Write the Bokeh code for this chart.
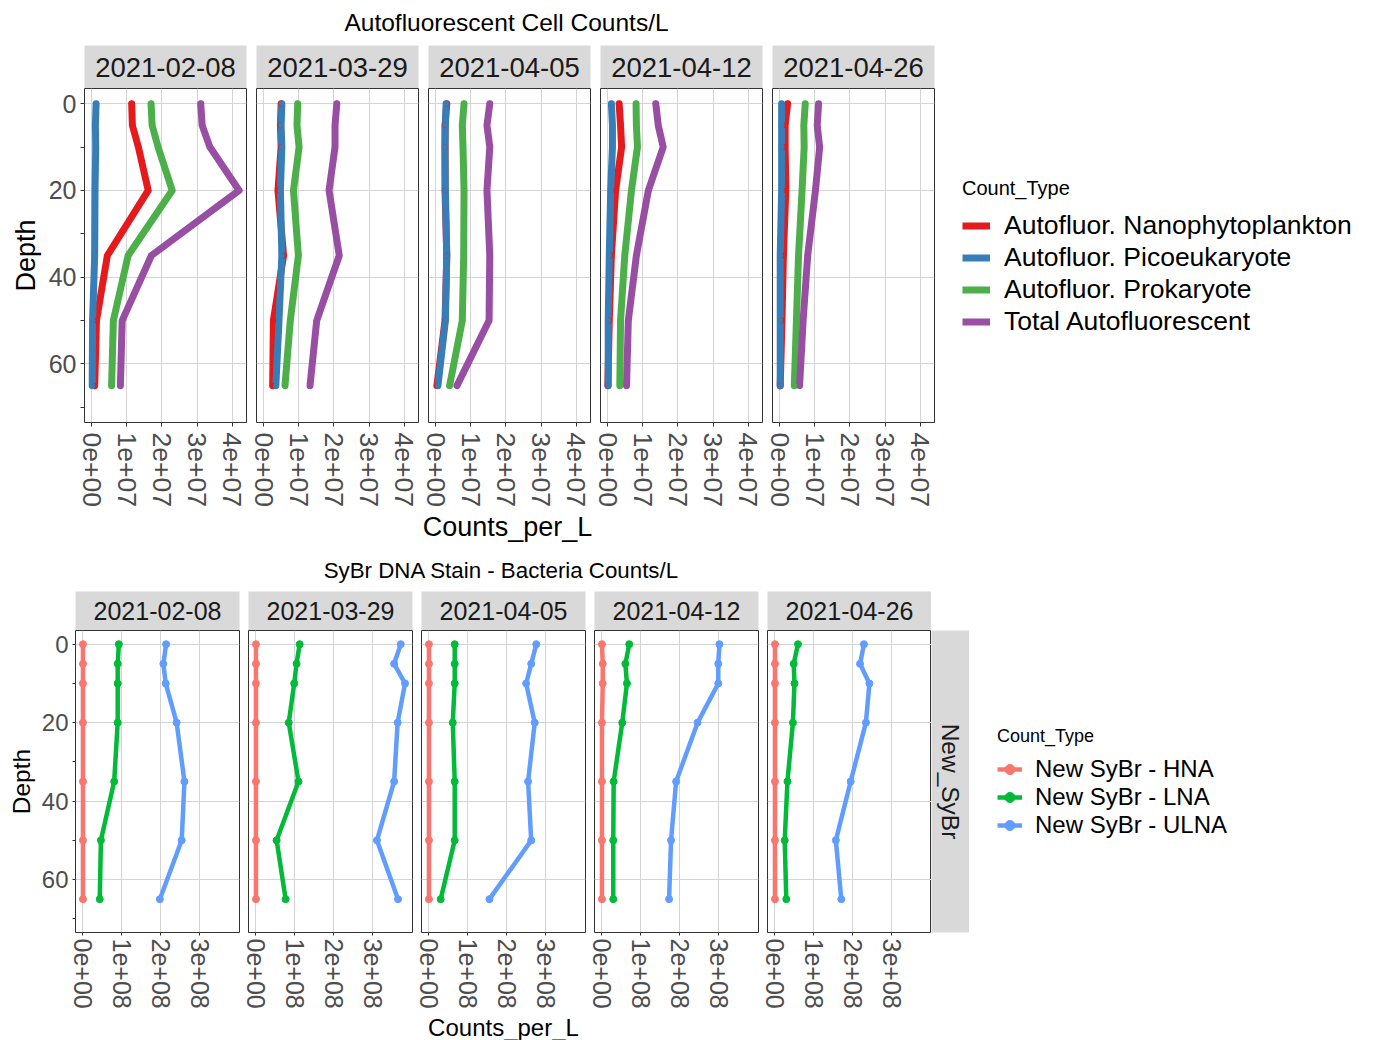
from bokeh.plotting import figure
from bokeh.models import Range1d, FixedTicker, Label, Legend, LegendItem, Spacer
from bokeh.layouts import row, column
from bokeh.embed import file_html
from bokeh.resources import INLINE

FONT = "Liberation Sans"

# ---------------- data ----------------
dates = ["2021-02-08", "2021-03-29", "2021-04-05", "2021-04-12", "2021-04-26"]
depths = [0, 5, 10, 20, 35, 50, 65]
depth_limits = [0, 70]
depth_ticks = [0, 20, 40, 60]
depth_minor_ticks = [10, 30, 50, 70]

auto_labels = ["Autofluor. Nanophytoplankton", "Autofluor. Picoeukaryote",
               "Autofluor. Prokaryote", "Total Autofluorescent"]
auto_colors = ["#E41A1C", "#377EB8", "#4DAF4A", "#984EA3"]
# one row per date, one value per depth (counts per L)
auto_nano = [
    [1.14e7, 1.16e7, 1.33e7, 1.61e7, 0.45e7, 0.14e7, 0.09e7],
    [0.50e7, 0.48e7, 0.50e7, 0.41e7, 0.57e7, 0.28e7, 0.26e7],
    [0.32e7, 0.27e7, 0.27e7, 0.27e7, 0.32e7, 0.27e7, 0.04e7],
    [0.33e7, 0.37e7, 0.40e7, 0.23e7, 0.11e7, 0.05e7, 0.01e7],
    [0.23e7, 0.16e7, 0.16e7, 0.18e7, 0.11e7, 0.07e7, 0.02e7],
]
auto_pico = [
    [0.13e7, 0.11e7, 0.12e7, 0.10e7, 0.09e7, 0.03e7, 0.02e7],
    [0.52e7, 0.50e7, 0.52e7, 0.48e7, 0.52e7, 0.44e7, 0.35e7],
    [0.30e7, 0.28e7, 0.27e7, 0.28e7, 0.32e7, 0.28e7, 0.07e7],
    [0.11e7, 0.14e7, 0.14e7, 0.09e7, 0.05e7, 0.02e7, 0.02e7],
    [0.06e7, 0.06e7, 0.06e7, 0.06e7, 0.02e7, 0.02e7, 0.02e7],
]
auto_prok = [
    [1.69e7, 1.72e7, 1.89e7, 2.29e7, 1.04e7, 0.62e7, 0.57e7],
    [0.97e7, 0.95e7, 1.01e7, 0.85e7, 0.99e7, 0.76e7, 0.61e7],
    [0.81e7, 0.76e7, 0.78e7, 0.81e7, 0.80e7, 0.76e7, 0.40e7],
    [0.81e7, 0.82e7, 0.85e7, 0.68e7, 0.49e7, 0.37e7, 0.35e7],
    [0.73e7, 0.69e7, 0.70e7, 0.64e7, 0.54e7, 0.48e7, 0.42e7],
]
auto_total = [
    [3.10e7, 3.14e7, 3.36e7, 4.19e7, 1.70e7, 0.87e7, 0.82e7],
    [2.08e7, 2.03e7, 2.03e7, 1.86e7, 2.15e7, 1.51e7, 1.32e7],
    [1.54e7, 1.46e7, 1.54e7, 1.46e7, 1.54e7, 1.52e7, 0.61e7],
    [1.37e7, 1.44e7, 1.58e7, 1.16e7, 0.82e7, 0.59e7, 0.54e7],
    [1.11e7, 1.07e7, 1.14e7, 1.02e7, 0.80e7, 0.67e7, 0.57e7],
]
auto_xticks = [0, 10000000, 20000000, 30000000, 40000000]
auto_xtick_labels = ["0e+00", "1e+07", "2e+07", "3e+07", "4e+07"]

sybr_labels = ["New SyBr - HNA", "New SyBr - LNA", "New SyBr - ULNA"]
sybr_colors = ["#F8766D", "#00BA38", "#619CFF"]
sybr_hna = [
    [0.01e8, 0.01e8, 0.01e8, 0.01e8, 0.01e8, 0.01e8, 0.01e8],
    [0.01e8, 0.01e8, 0.01e8, 0.01e8, 0.01e8, 0.01e8, 0.01e8],
    [0.01e8, 0.01e8, 0.01e8, 0.01e8, 0.01e8, 0.01e8, 0.01e8],
    [0.01e8, 0.03e8, 0.03e8, 0.01e8, 0.01e8, 0.01e8, 0.01e8],
    [0.01e8, 0.01e8, 0.01e8, 0.01e8, 0.01e8, 0.01e8, 0.01e8],
]
sybr_lna = [
    [0.93e8, 0.90e8, 0.90e8, 0.90e8, 0.81e8, 0.47e8, 0.44e8],
    [1.13e8, 1.05e8, 0.99e8, 0.85e8, 1.10e8, 0.54e8, 0.77e8],
    [0.67e8, 0.67e8, 0.67e8, 0.62e8, 0.67e8, 0.67e8, 0.31e8],
    [0.71e8, 0.61e8, 0.65e8, 0.53e8, 0.31e8, 0.30e8, 0.30e8],
    [0.60e8, 0.49e8, 0.51e8, 0.47e8, 0.33e8, 0.26e8, 0.30e8],
]
sybr_ulna = [
    [2.14e8, 2.07e8, 2.13e8, 2.41e8, 2.61e8, 2.54e8, 1.98e8],
    [3.72e8, 3.55e8, 3.83e8, 3.64e8, 3.55e8, 3.11e8, 3.65e8],
    [2.76e8, 2.63e8, 2.50e8, 2.72e8, 2.55e8, 2.63e8, 1.56e8],
    [3.02e8, 2.99e8, 2.99e8, 2.46e8, 1.91e8, 1.78e8, 1.73e8],
    [2.29e8, 2.19e8, 2.43e8, 2.34e8, 1.95e8, 1.57e8, 1.71e8],
]
sybr_xticks = [0, 100000000, 200000000, 300000000]
sybr_xtick_labels = ["0e+00", "1e+08", "2e+08", "3e+08"]

# ---------------- helpers ----------------
GRID = "#D4D4D4"
BORDER = "#333333"
TICKTXT = "#4D4D4D"
TOTAL_W = 1366


def expand(lo, hi, f=0.05):
    d = hi - lo
    return lo - f * d, hi + f * d


def blank(fig):
    fig.grid.visible = False
    fig.outline_line_color = None
    fig.background_fill_color = "white"
    fig.border_fill_color = "white"


def text_fig(w, h, text, x, y, fs):
    f = figure(width=w, height=h, x_range=Range1d(0, w), y_range=Range1d(0, h),
               x_axis_location=None, y_axis_location=None, min_border=0,
               toolbar_location=None, output_backend="svg")
    blank(f)
    f.add_layout(Label(x=x, y=y, text=text, text_align="center", text_baseline="middle",
                       text_font=FONT, text_font_size=f"{fs}px", text_color="black"))
    return f


def strip_fig(text, fw, fh, bl, br, bt, bb, fs, angle=0.0):
    s = figure(frame_width=fw, frame_height=fh, x_range=Range1d(0, 1), y_range=Range1d(0, 1),
               x_axis_location=None, y_axis_location=None,
               min_border_left=bl, min_border_right=br, min_border_top=bt, min_border_bottom=bb,
               toolbar_location=None, output_backend="svg")
    blank(s)
    s.background_fill_color = "#D9D9D9"
    s.add_layout(Label(x=0.5, y=0.5, text=text, text_align="center", text_baseline="middle",
                       angle=angle, text_font=FONT, text_font_size=f"{fs}px",
                       text_color="#1A1A1A"))
    return s


def panel_fig(series, colors, xr, yr, fw, fh, bl, br, bb, show_y, xticks, xlabels, xlabel,
              lw, psize, st):
    p = figure(frame_width=fw, frame_height=fh, x_range=xr, y_range=yr,
               x_axis_location="below", y_axis_location="left" if show_y else None,
               min_border_left=bl, min_border_right=br, min_border_top=0, min_border_bottom=bb,
               toolbar_location=None, output_backend="svg")
    p.background_fill_color = "white"
    p.border_fill_color = "white"
    p.outline_line_color = BORDER
    p.outline_line_width = 1
    p.xgrid.ticker = FixedTicker(ticks=xticks)
    p.ygrid.ticker = FixedTicker(ticks=depth_ticks)
    p.grid.grid_line_color = GRID
    p.grid.grid_line_width = 1

    ax = p.xaxis[0]
    ax.ticker = FixedTicker(ticks=xticks)
    ax.major_label_overrides = {t: l for t, l in zip(xticks, xlabels)}
    ax.major_label_orientation = "vertical"
    ax.major_label_text_font = FONT
    ax.major_label_text_font_size = f"{st['xtick_fs']}px"
    ax.major_label_text_color = TICKTXT
    ax.major_label_standoff = st['xtick_standoff']
    ax.axis_line_color = None
    ax.major_tick_line_color = BORDER
    ax.major_tick_out = st['tick_out']
    ax.major_tick_in = 0
    ax.minor_tick_line_color = None
    if xlabel:
        ax.axis_label = xlabel
        ax.axis_label_text_font = FONT
        ax.axis_label_text_font_size = f"{st['xlab_fs']}px"
        ax.axis_label_text_font_style = "normal"
        ax.axis_label_text_color = "black"
        ax.axis_label_standoff = st['xlab_standoff']

    if show_y:
        ay = p.yaxis[0]
        ay.ticker = FixedTicker(ticks=depth_ticks, minor_ticks=depth_minor_ticks)
        ay.major_label_text_font = FONT
        ay.major_label_text_font_size = f"{st['ytick_fs']}px"
        ay.major_label_text_color = TICKTXT
        ay.major_label_standoff = 4
        ay.axis_line_color = None
        ay.major_tick_line_color = BORDER
        ay.minor_tick_line_color = BORDER
        ay.major_tick_out = st['tick_out']
        ay.major_tick_in = 0
        ay.minor_tick_out = st['tick_out']
        ay.minor_tick_in = 0
        ay.axis_label = "Depth"
        ay.axis_label_text_font = FONT
        ay.axis_label_text_font_size = f"{st['ylab_fs']}px"
        ay.axis_label_text_font_style = "normal"
        ay.axis_label_text_color = "black"
        ay.axis_label_standoff = st['ylab_standoff']

    for vals, c in zip(series, colors):
        p.line(x=vals, y=depths, line_color=c, line_width=lw, line_join="round",
               line_cap="round")
    for vals, c in zip(series, colors):
        p.scatter(x=vals, y=depths, size=psize, fill_color=c, line_color=c)
    return p


def legend_fig(w, h, left, top, labels, colors, series, lw, psize, title, title_fs,
               label_fs, glyph_w, glyph_h, label_standoff, spacing, title_standoff):
    # frame spans [0, 1] in both directions; the series' counts lie far outside it, so
    # these renderers only feed the legend keys
    f = figure(frame_width=w - left, frame_height=h - top, min_border_left=left,
               min_border_top=top, min_border_right=0, min_border_bottom=0,
               x_range=Range1d(0, 1), y_range=Range1d(0, 1),
               x_axis_location=None, y_axis_location=None,
               toolbar_location=None, output_backend="svg")
    blank(f)
    items = []
    for lab, c, vals in zip(labels, colors, series):
        rs = [f.line(x=vals, y=depths, line_color=c, line_width=lw)]
        if psize:
            rs.append(f.scatter(x=vals, y=depths, size=psize, fill_color=c, line_color=c))
        items.append(LegendItem(label=lab, renderers=rs))
    leg = Legend(items=items, location="top_left", title=title,
                 title_text_font=FONT, title_text_font_size=f"{title_fs}px",
                 title_text_font_style="normal", title_text_color="black",
                 title_standoff=title_standoff,
                 label_text_font=FONT, label_text_font_size=f"{label_fs}px",
                 label_text_color="black",
                 glyph_width=glyph_w, glyph_height=glyph_h, label_height=glyph_h,
                 label_standoff=label_standoff, spacing=spacing, padding=0, margin=0,
                 border_line_color=None, background_fill_alpha=0)
    f.add_layout(leg)
    return f


# ---------------- top section ----------------
auto_all = [v for grp in (auto_nano, auto_pico, auto_prok, auto_total) for r in grp for v in r]
top_xr = Range1d(*expand(min(auto_all), max(auto_all)))
ylo, yhi = expand(depth_limits[0], depth_limits[1])
top_yr = Range1d(yhi, ylo)

top_st = dict(xtick_fs=26.5, xtick_standoff=6, tick_out=4, xlab_fs=27, xlab_standoff=1,
              ytick_fs=25, ylab_fs=27, ylab_standoff=5)

TOP_STRIP_H, TOP_FRAME_H, TOP_BB = 43, 334, 88
top_cols = []
for i, d in enumerate(dates):
    bl = 84 if i == 0 else 8
    br = 2
    s = strip_fig(d, 162, TOP_STRIP_H, bl, br, 0, 0, 27.5)
    p = panel_fig([auto_nano[i], auto_pico[i], auto_prok[i], auto_total[i]], auto_colors,
                  top_xr, top_yr, 162, TOP_FRAME_H, bl, br, TOP_BB, i == 0, auto_xticks,
                  auto_xtick_labels, None, 7, 5, top_st)
    top_cols.append(column(s, p))
top_row_w = 84 + 162 + 2 + 4 * (8 + 162 + 2)

top_leg = legend_fig(TOTAL_W - top_row_w, TOP_STRIP_H + TOP_FRAME_H + TOP_BB, 26, 132,
                     auto_labels, auto_colors,
                     [auto_nano[0], auto_pico[0], auto_prok[0], auto_total[0]], 7, 0,
                     "Count_Type", 20, 26.5, 28, 31, 14, 1, 10)

top_title = text_fig(TOTAL_W, 45, "Autofluorescent Cell Counts/L", 506, 23, 24.5)
top_xlabel = text_fig(TOTAL_W, 42, "Counts_per_L", 507, 42 - 16, 27)

# ---------------- bottom section ----------------
sybr_all = [v for grp in (sybr_hna, sybr_lna, sybr_ulna) for r in grp for v in r]
bot_xr = Range1d(*expand(min(sybr_all), max(sybr_all)))
bot_yr = Range1d(yhi, ylo)

bot_st = dict(xtick_fs=25, xtick_standoff=3, tick_out=3, xlab_fs=24, xlab_standoff=2,
              ytick_fs=24, ylab_fs=24.5, ylab_standoff=4)

BOT_STRIP_H, BOT_FRAME_H, BOT_BB = 39, 302, 105
bot_cols = []
for i, d in enumerate(dates):
    bl = 75 if i == 0 else 7
    br = 0 if i == 4 else 2
    s = strip_fig(d, 164, BOT_STRIP_H, bl, br, 0, 0, 25)
    p = panel_fig([sybr_hna[i], sybr_lna[i], sybr_ulna[i]], sybr_colors,
                  bot_xr, bot_yr, 164, BOT_FRAME_H, bl, br, BOT_BB, i == 0, sybr_xticks,
                  sybr_xtick_labels, "Counts_per_L" if i == 2 else None, 4.5, 7, bot_st)
    bot_cols.append(column(s, p))
bot_row_w = 75 + 164 + 2 + 3 * (7 + 164 + 2) + (7 + 164)

right_strip = strip_fig("New_SyBr", 38, BOT_FRAME_H, 0, 0, 0, BOT_BB, 24.5,
                        angle=-1.5707963267948966)
right_col = column(Spacer(width=38, height=BOT_STRIP_H), right_strip)

bot_leg = legend_fig(TOTAL_W - bot_row_w - 38, BOT_STRIP_H + BOT_FRAME_H + BOT_BB, 28, 135,
                     sybr_labels, sybr_colors, [sybr_hna[0], sybr_lna[0], sybr_ulna[0]],
                     4.5, 7, "Count_Type", 18, 24, 25, 26, 13, 0, 8)

bot_title = text_fig(TOTAL_W, 39, "SyBr DNA Stain - Bacteria Counts/L", 501, 21, 22.3)

layout = column(top_title, row(*top_cols, column(top_leg)), top_xlabel, bot_title,
                row(*bot_cols, right_col, column(bot_leg)))

open("out.html", "w").write(file_html(layout, INLINE))
